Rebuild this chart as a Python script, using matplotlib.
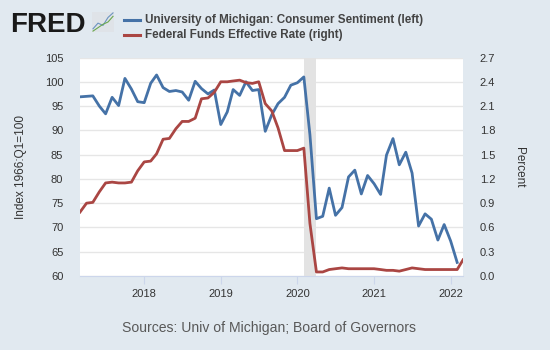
import pandas as pd
from matplotlib import pyplot as plt
import matplotlib.dates as mdates

# University of Michigan consumer sentiment, monthly from 2017-03 to 2022-02
sentiment = [
    96.9, 97.0, 97.1, 95.0, 93.4, 96.8, 95.1, 100.7, 98.5, 95.9,
    95.7, 99.7, 101.4, 98.8, 98.0, 98.2, 97.9, 96.2, 100.1, 98.6, 97.5, 98.3,
    91.2, 93.8, 98.4, 97.2, 100.0, 98.2, 98.4, 89.8, 93.2, 95.5, 96.8, 99.3,
    99.8, 101.0, 89.1, 71.8, 72.3, 78.1, 72.5, 74.1, 80.4, 81.8, 76.9, 80.7,
    79.0, 76.8, 84.9, 88.3, 82.9, 85.5, 81.2, 70.3, 72.8, 71.7, 67.4, 70.6,
    67.2, 62.8,
]
# Federal funds effective rate, monthly from 2017-03 to 2022-03
fed_funds = [
    0.79, 0.90, 0.91, 1.04, 1.15, 1.16, 1.15, 1.15, 1.16, 1.30,
    1.41, 1.42, 1.51, 1.69, 1.70, 1.82, 1.91, 1.91, 1.95, 2.19, 2.20, 2.27,
    2.40, 2.40, 2.41, 2.42, 2.39, 2.38, 2.40, 2.13, 2.04, 1.83, 1.55, 1.55,
    1.55, 1.58, 0.65, 0.05, 0.05, 0.08, 0.09, 0.10, 0.09, 0.09, 0.09, 0.09,
    0.09, 0.08, 0.07, 0.07, 0.06, 0.08, 0.10, 0.09, 0.08, 0.08, 0.08, 0.08,
    0.08, 0.08, 0.20,
]
sentiment_dates = pd.date_range("2017-03-01", periods=len(sentiment), freq="MS")
fed_dates = pd.date_range("2017-03-01", periods=len(fed_funds), freq="MS")
recession = ("2020-02-01", "2020-04-01")
left_ticks = list(range(60, 106, 5))
right_ticks = [0.0, 0.3, 0.6, 0.9, 1.2, 1.5, 1.8, 2.1, 2.4, 2.7]
year_ticks = ["2018", "2019", "2020", "2021", "2022"]

BG = "#e1e9f0"
BLUE = "#4572a7"
RED = "#aa4643"
TEXT = "#333333"

plt.rcParams["font.family"] = ["Liberation Sans", "DejaVu Sans"]

fig = plt.figure(figsize=(5.5, 3.5), dpi=100, facecolor=BG)
ax = fig.add_axes([0.1455, 0.2114, 0.6964, 0.6243])
ax.set_facecolor("white")

ax.axvspan(pd.Timestamp(recession[0]), pd.Timestamp(recession[1]),
           color="#e3e3e3", zorder=1, lw=0)
ax.plot(sentiment_dates, sentiment, color=BLUE, lw=2.0, zorder=3)
ax.set_ylim(60, 105)
ax.set_yticks(left_ticks)
ax.set_xlim(pd.Timestamp("2017-03-01"), pd.Timestamp("2022-03-01"))
ax.set_xticks([pd.Timestamp(y + "-01-01") for y in year_ticks])
ax.xaxis.set_major_formatter(mdates.DateFormatter("%Y"))
ax.grid(axis="y", color="#e6e6e6", lw=1, zorder=0)
ax.set_axisbelow(True)
for side in ["top", "right", "left"]:
    ax.spines[side].set_visible(False)
ax.spines["bottom"].set_color("#ccd6eb")
ax.tick_params(axis="y", length=0, pad=12, labelsize=8, labelcolor=TEXT)
ax.tick_params(axis="x", length=6, color="#ccd6eb", pad=3, labelsize=8,
               labelcolor=TEXT)

ax2 = ax.twinx()
ax2.plot(fed_dates, fed_funds, color=RED, lw=2.0, zorder=3)
ax2.set_ylim(0, 2.7)
ax2.set_yticks(right_ticks)
ax2.set_yticklabels([f"{t:.1f}" for t in right_ticks])
for side in ["top", "right", "left", "bottom"]:
    ax2.spines[side].set_visible(False)
ax2.tick_params(axis="y", length=0, pad=12, labelsize=8, labelcolor=TEXT)

fig.text(0.038, 0.523, "Index 1966:Q1=100", rotation=90, ha="center",
         va="center", fontsize=8.5, color=TEXT)
fig.text(0.943, 0.523, "Percent", rotation=270, ha="center", va="center",
         fontsize=8.5, color=TEXT)

# FRED header with logo and legend
fig.text(0.018, 1 - 32 / 350, "FRED", fontsize=20, fontweight="heavy",
         color="#1a1a1a", va="baseline", ha="left")
icon = fig.add_axes([92 / 550, 1 - 32 / 350, 22 / 550, 20 / 350])
icon.set_facecolor("#dfe3e8")
icon.plot([0, 1, 2, 3, 4], [1, 2, 1.6, 3, 3.8], color="#6b93c0", lw=0.8)
icon.plot([0, 1, 2, 3, 4], [0.6, 1.2, 1.8, 2.2, 3.2], color="#6aa84f", lw=0.8)
icon.set_xticks([])
icon.set_yticks([])
for s in icon.spines.values():
    s.set_visible(False)

legend_items = [("University of Michigan: Consumer Sentiment (left)", BLUE),
                ("Federal Funds Effective Rate (right)", RED)]
for i, (label, col) in enumerate(legend_items):
    y = 1 - (20 + 15 * i) / 350
    fig.add_artist(plt.Line2D([123.5 / 550, 139.5 / 550], [y, y],
                              color=col, lw=2.2))
    fig.text(144.5 / 550, y, label, fontsize=8.4, fontweight="bold",
             color="#444444", va="center", ha="left")

fig.text(269 / 550, 1 - 328 / 350, "Sources: Univ of Michigan; Board of Governors",
         ha="center", va="center", fontsize=10.1, color="#595959")

fig.savefig("out.png", dpi=100, facecolor=BG)
